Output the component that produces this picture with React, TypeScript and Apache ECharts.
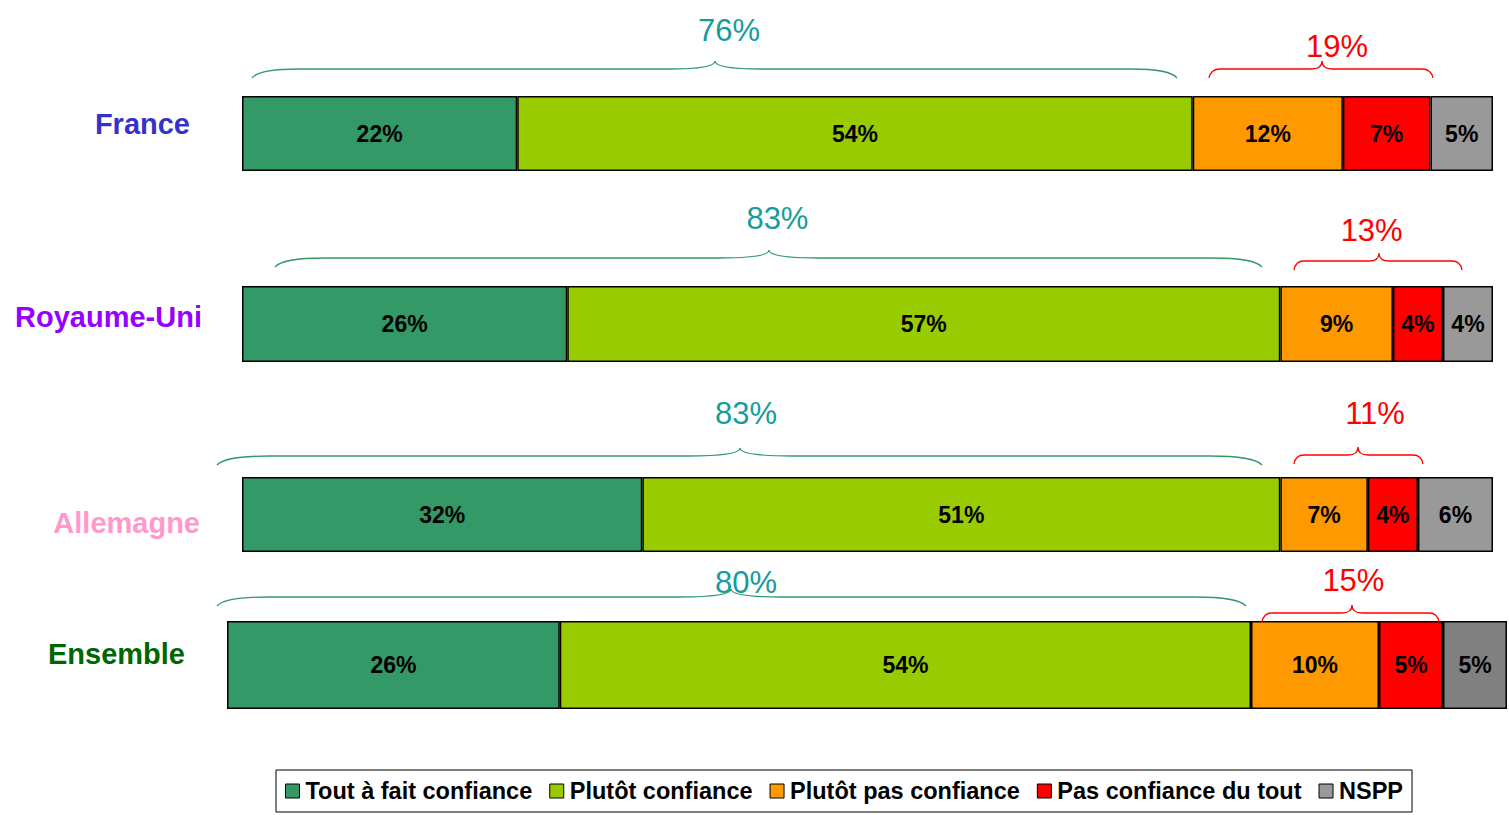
import React, { useEffect, useRef } from "react";
import * as echarts from "echarts";

// ---- Data ----
const categories = ["France", "Royaume-Uni", "Allemagne", "Ensemble"];
const categoryColors = ["#3333cc", "#9900ff", "#ff99cc", "#006600"];

const seriesNames = [
  "Tout à fait confiance",
  "Plutôt confiance",
  "Plutôt pas confiance",
  "Pas confiance du tout",
  "NSPP",
];
const toutAFait = [22, 26, 32, 26];
const plutotConfiance = [54, 57, 51, 54];
const plutotPas = [12, 9, 7, 10];
const pasDuTout = [7, 4, 4, 5];
const nspp = [5, 4, 6, 5];
const seriesValues = [toutAFait, plutotConfiance, plutotPas, pasDuTout, nspp];

const confianceTotals = [76, 83, 83, 80];
const defianceTotals = [19, 13, 11, 15];

// brace extents in axis units (percent): [start, end, tip, labelX]
const confianceBraces = [
  [0.8, 74.74, 37.81, 38.93],
  [2.64, 81.53, 42.13, 42.8],
  [-2.0, 81.53, 39.81, 40.29],
  [-0.78, 79.61, 39.38, 40.55],
];
const defianceBraces = [
  [77.3, 95.2, 86.33, 87.53],
  [84.09, 97.52, 90.89, 90.3],
  [84.09, 94.4, 89.21, 90.57],
  [80.86, 94.69, 87.89, 88.0],
];

// ---- Styles / layout ----
const seriesColors = ["#339966", "#99cc00", "#ff9900", "#ff0000", "#999999"];
const ensembleNsppColor = "#808080";
const braceColors = ["#339966", "#ff0000"];
const braceLabelColors = ["#179c9c", "#ff0000"];
const FONT = '"Liberation Sans", Arial, Helvetica, sans-serif';

const grids = [
  { left: 242, top: 96, width: 1251, height: 75 },
  { left: 242, top: 286, width: 1251, height: 76 },
  { left: 242, top: 477, width: 1251, height: 75 },
  { left: 227, top: 621, width: 1280, height: 88 },
];
const labelMargins = [52, 40, 42, 42];
// vertical placement of category labels: [verticalAlign, lineHeight]
const labelVAlign = ["bottom", "bottom", "top", "bottom"];
const labelLineHeights = [20, 14, 17, 22];
const braceLift = [
  [18, 18],
  [19, 16],
  [12, 13],
  [15, -1],
];
const labelLift = [
  [66, 50],
  [68, 56],
  [64, 64],
  [39, 41],
];

function buildOption() {
  const series: any[] = [];
  categories.forEach((cat, gi) => {
    seriesNames.forEach((name, si) => {
      const v = seriesValues[si][gi];
      const color = gi === 3 && si === 4 ? ensembleNsppColor : seriesColors[si];
      series.push({
        type: "bar",
        name,
        xAxisIndex: gi,
        yAxisIndex: gi,
        stack: "s" + gi,
        barWidth: "100%",
        data: [{ value: v, itemStyle: { color } }],
        itemStyle: { color: seriesColors[si], borderColor: "#000", borderWidth: 1.5 },
        label: {
          show: true,
          position: "inside",
          formatter: (p: any) => p.value + "%",
          color: "#000",
          fontWeight: "bold",
          fontSize: 23,
          fontFamily: FONT,
        },
        emphasis: { disabled: true },
      });
    });
    const braceData = [
      [...confianceBraces[gi].slice(0, 2), confianceBraces[gi][2], confianceBraces[gi][3], 0, confianceTotals[gi], 0],
      [...defianceBraces[gi].slice(0, 2), defianceBraces[gi][2], defianceBraces[gi][3], 0, defianceTotals[gi], 1],
    ];
    series.push({
      type: "custom",
      xAxisIndex: gi,
      yAxisIndex: gi,
      clip: false,
      silent: true,
      z: 5,
      encode: { x: [0, 1, 2, 3], y: 4 },
      data: braceData,
      renderItem: (params: any, api: any) => {
        const idx = params.dataIndex;
        const kind = api.value(6);
        const top = params.coordSys.y;
        const x0 = api.coord([api.value(0), 0])[0];
        const x1 = api.coord([api.value(1), 0])[0];
        const xt = api.coord([api.value(2), 0])[0];
        const xl = api.coord([api.value(3), 0])[0];
        const yEnd = top - braceLift[gi][idx];
        const yH = yEnd - 9;
        const yT = yH - 8;
        const w = x1 - x0;
        const rx = Math.min(55, Math.max(10, w * 0.05));
        const d =
          `M${x0},${yEnd} Q${x0 + rx * 0.15},${yH} ${x0 + rx},${yH} ` +
          `L${xt - rx},${yH} Q${xt},${yH} ${xt},${yT} ` +
          `Q${xt},${yH} ${xt + rx},${yH} ` +
          `L${x1 - rx},${yH} Q${x1 - rx * 0.15},${yH} ${x1},${yEnd}`;
        return {
          type: "group",
          children: [
            {
              type: "path",
              shape: { pathData: d },
              style: { stroke: braceColors[kind], fill: "none", lineWidth: 1.3 },
            },
            {
              type: "text",
              style: {
                text: api.value(5) + "%",
                x: xl,
                y: top - labelLift[gi][idx],
                fill: braceLabelColors[kind],
                font: `normal 31px ${FONT}`,
                align: "center",
                verticalAlign: "middle",
              },
            },
          ],
        };
      },
    });
  });

  return {
    animation: false,
    backgroundColor: "#ffffff",
    grid: grids.map((g) => ({ ...g, containLabel: false })),
    xAxis: grids.map((_, gi) => ({
      type: "value",
      gridIndex: gi,
      min: 0,
      max: 100,
      show: false,
    })),
    yAxis: grids.map((_, gi) => ({
      type: "category",
      gridIndex: gi,
      data: [categories[gi]],
      axisLine: { show: false },
      axisTick: { show: false },
      splitLine: { show: false },
      axisLabel: {
        margin: labelMargins[gi],
        verticalAlign: labelVAlign[gi],
        lineHeight: labelLineHeights[gi],
        color: categoryColors[gi],
        fontWeight: "bold",
        fontSize: 29,
        fontFamily: FONT,
      },
    })),
    legend: {
      data: seriesNames,
      left: 276,
      top: 770,
      orient: "horizontal",
      selectedMode: false,
      icon: "rect",
      itemWidth: 14,
      itemHeight: 14,
      itemGap: 17,
      padding: [9, 9],
      borderColor: "#000",
      borderWidth: 1,
      itemStyle: { borderColor: "#000", borderWidth: 1 },
      textStyle: {
        color: "#000",
        fontWeight: "bold",
        fontSize: 23.5,
        fontFamily: FONT,
        padding: [0, 0, 0, 1],
      },
    },
    series,
  };
}

export default function App() {
  const ref = useRef<HTMLDivElement>(null);
  useEffect(() => {
    if (!ref.current) return;
    const chart = echarts.init(ref.current, undefined, { renderer: "svg" });
    chart.setOption(buildOption() as any);
    return () => chart.dispose();
  }, []);
  return (
    <div
      ref={ref}
      style={{ position: "fixed", left: 0, top: 0, width: 1509, height: 815, background: "#fff" }}
    />
  );
}
